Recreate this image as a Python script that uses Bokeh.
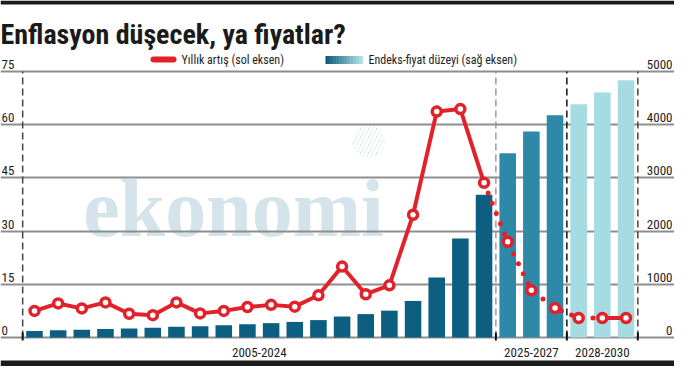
from bokeh.plotting import figure
from bokeh.models import Range1d, Grid, FixedTicker, ColumnDataSource, Label
from bokeh.core.properties import value
from bokeh.embed import file_html
from bokeh.resources import INLINE

# ---------------- data ----------------
title_text = "Enflasyon düşecek, ya fiyatlar?"
legend_line_label = "Yıllık artış (sol eksen)"
legend_bar_label = "Endeks-fiyat düzeyi (sağ eksen)"
watermark_text = "ekonomi"

years = list(range(2005, 2031))
inflation = [7.5, 9.6, 8.2, 9.9, 6.7, 6.3, 9.9, 6.8, 7.5, 8.6,
             9.2, 8.7, 11.9, 20.0, 12.2, 14.7, 34.6, 63.7, 64.4, 43.6,
             27.0, 13.3, 8.3, 5.5, 5.5, 5.5]
index_level = [123, 134, 146, 160, 171, 182, 201, 213, 229, 248,
               270, 293, 327, 394, 440, 505, 687, 1128, 1859, 2685,
               3464, 3872, 4178, 4385, 4605, 4836]
group_labels = ["2005-2024", "2025-2027", "2028-2030"]
group_first = [2005, 2025, 2028]
group_last = [2024, 2027, 2030]
left_ticks = [0, 15, 30, 45, 60, 75]
right_ticks = [0, 1000, 2000, 3000, 4000, 5000]

# ---------------- styles ----------------
RED = "#e2222b"
GROUP_COLORS = ["#0c5f80", "#2d89a7", "#a6dbe2"]
DASH_COLORS = ["#444444", "#9a9a9a", "#111111", "#444444"]
GRID = "#8e8e8e"
TXT = "#1e1e1e"
FONT = "Roboto Condensed, DejaVu Sans Condensed, Roboto, sans-serif"
SERIF = "Liberation Serif"

W, H = 674, 366
OFF = 8                     # page margin
PX0, STEP = 42.0, 23.66     # reference pixel of first category, spacing
PY0, PPU = 345.0, 266.0 / 75.0
K = 5000.0 / 75.0           # right axis / left axis

x_start = years[0] - (PX0 - OFF) / STEP
x_end = x_start + W / STEP
y_start = -(OFF + H - PY0) / PPU
y_end = y_start + H / PPU


def X(rx):
    return x_start + (rx - OFF) / STEP


def Y(ry):
    return (PY0 - ry) / PPU


p = figure(width=W, height=H, x_range=Range1d(x_start, x_end),
           y_range=Range1d(y_start, y_end), x_axis_type=None, y_axis_type=None,
           toolbar_location=None, output_backend="svg", min_border=0,
           outline_line_color=None, background_fill_color="white",
           border_fill_color="white")
p.extra_y_ranges = {"right": Range1d(y_start * K, y_end * K)}

# gridlines
p.add_layout(Grid(dimension=1, ticker=FixedTicker(ticks=left_ticks),
                  grid_line_color=GRID, grid_line_width=2))

# watermark
p.text(x=[X(241)], y=[Y(216)], text=[watermark_text], text_font=value(SERIF),
       text_font_style="bold", text_font_size="82px", text_color="#d5e3eb",
       text_align="center", text_baseline="alphabetic", level="image")
p.scatter(x=[X(376)], y=[Y(149)], size=32, marker="circle", fill_color="#d5e3eb",
          line_color=None, hatch_pattern="/", hatch_color="white",
          hatch_weight=3, hatch_scale=8, level="image")

# bars
bar_colors = []
for yr in years:
    for gi in range(3):
        if group_first[gi] <= yr <= group_last[gi]:
            bar_colors.append(GROUP_COLORS[gi])
src = ColumnDataSource(dict(year=years, idx=index_level, color=bar_colors))
p.vbar(x="year", top="idx", bottom=0, width=0.7, fill_color="color",
       line_color=None, y_range_name="right", source=src)

# dashed separators
bounds = [group_first[0] - 0.5] + [g + 0.5 for g in group_last]
p.segment(x0=bounds, y0=[0] * 4, x1=bounds, y1=[75] * 4, line_color=DASH_COLORS,
          line_width=1.5, line_dash="7 4")
p.segment(x0=bounds, y0=[Y(348)] * 4, x1=bounds, y1=[Y(340)] * 4,
          line_color="#111111", line_width=2)

# inflation line
n_hist = group_last[0] - years[0] + 1
p.line(years[:n_hist], inflation[:n_hist], line_color=RED, line_width=4,
       line_join="round")
p.line(years[n_hist - 1:-1], inflation[n_hist - 1:-1], line_color=RED,
       line_width=5, line_dash="0 11", line_cap="round")
p.line(years[-2:], inflation[-2:], line_color=RED, line_width=4)
p.scatter(years, inflation, size=9, marker="circle", fill_color="white",
          line_color=RED, line_width=3.5)

# tick labels
p.text(x=[X(9)] * len(left_ticks), y=left_ticks, text=[str(t) for t in left_ticks],
       text_font=value(FONT), text_font_size="13px", text_color=TXT,
       text_align="left", text_baseline="alphabetic", y_offset=-7)
p.text(x=[X(680)] * len(right_ticks), y=right_ticks,
       text=[str(t) for t in right_ticks], y_range_name="right",
       text_font=value(FONT), text_font_size="13px", text_color=TXT,
       text_align="right", text_baseline="alphabetic", y_offset=-7)

# group labels
gx = [(a + b) / 2 for a, b in zip(group_first, group_last)]
p.text(x=gx, y=[Y(360)] * 3, text=group_labels, text_font=value(FONT),
       text_font_size="13px", text_color=TXT, text_align="center",
       text_baseline="middle")

# title
p.add_layout(Label(x=X(8), y=Y(42), text=title_text, text_font=FONT,
                   text_font_size="28px", text_font_style="bold",
                   text_color="#1a1a1a", text_baseline="alphabetic"))

# legend
p.line(x=[X(161), X(181)], y=[Y(67), Y(67)], line_color=RED, line_width=6,
       line_cap="round")
p.add_layout(Label(x=X(189), y=Y(67), text=legend_line_label, text_font=FONT,
                   text_font_size="12px", text_color=TXT, text_baseline="middle"))


def mix(c1, c2, t):
    a = [int(c1[i:i + 2], 16) for i in (1, 3, 5)]
    b = [int(c2[i:i + 2], 16) for i in (1, 3, 5)]
    return "#%02x%02x%02x" % tuple(round(a[i] + (b[i] - a[i]) * t) for i in range(3))


NG = 24
gl = [X(333 + (370 - 333) * i / NG) for i in range(NG)]
gr = [X(333 + (370 - 333) * (i + 1.3) / NG) for i in range(NG)]
gcol = [mix("#0b5a7a", "#b0e0e8", i / (NG - 1)) for i in range(NG)]
p.quad(left=gl, right=gr, top=[Y(63.5)] * NG, bottom=[Y(71.5)] * NG,
       fill_color=gcol, line_color=None)
p.add_layout(Label(x=X(376), y=Y(67), text=legend_bar_label, text_font=FONT,
                   text_font_size="12px", text_color=TXT, text_baseline="middle"))

# black rules top and bottom
p.quad(left=[x_start, x_start], right=[x_end, x_end], top=[Y(8), Y(368)],
       bottom=[Y(12), Y(374)], fill_color="#1b1b1b", line_color=None)

open("out.html", "w").write(file_html(p, INLINE))
